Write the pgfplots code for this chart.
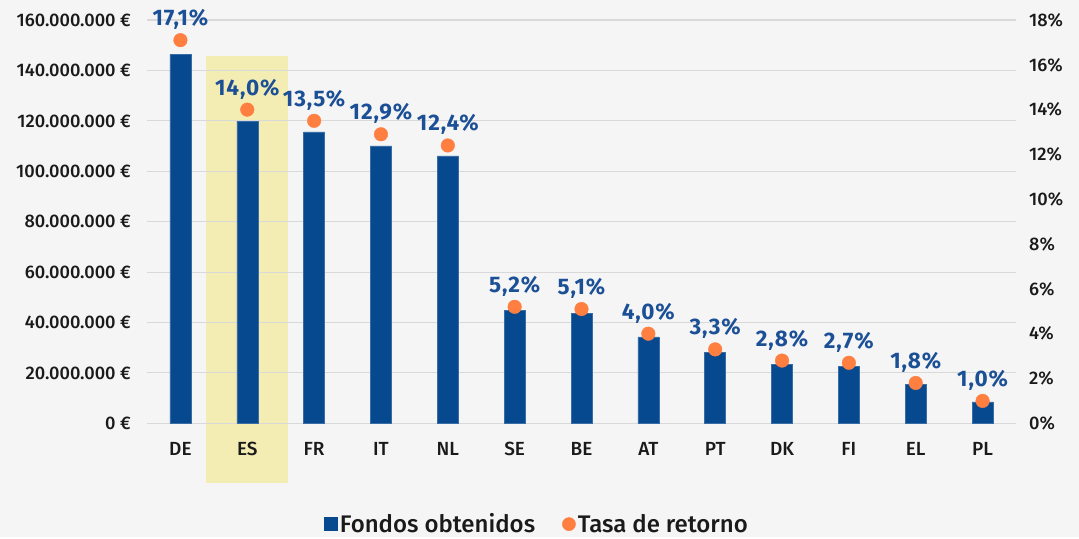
\documentclass[border=0pt]{standalone}
\usepackage{pgfplots}
\pgfplotsset{compat=1.18}
\usepackage{fontspec}
\setmainfont{Fira Sans}
\newfontfamily\medfont{Fira Sans Medium}
\newfontfamily\lblfont{Fira Sans Bold}[LetterSpace=4]
\definecolor{bgcol}{HTML}{F5F5F5}
\definecolor{barcol}{HTML}{07498E}
\definecolor{dotcol}{HTML}{FF7F41}
\definecolor{lblcol}{HTML}{1B4F96}
\definecolor{hlcol}{HTML}{F3EDB3}
\definecolor{gridcol}{HTML}{D9D9D9}
\definecolor{txtcol}{HTML}{1A1A1A}
\pgfplotstableread{
x fondos tasa
0 146.4e6 17.1
1 119.9e6 14.0
2 115.6e6 13.5
3 110.1e6 12.9
4 106.1e6 12.4
5 44.9e6 5.2
6 43.6e6 5.1
7 34.3e6 4.0
8 28.2e6 3.3
9 23.5e6 2.8
10 22.7e6 2.7
11 15.4e6 1.8
12 8.5e6 1.0
}\datatable
\begin{document}
\begin{tikzpicture}
\fill[bgcol] (0,0) rectangle (1079pt,537pt);
% highlight band
\begin{axis}[
  at={(147pt,113.7pt)}, anchor=south west, scale only axis,
  width=869pt, height=403.3pt,
  xmin=-0.5, xmax=12.5, ymin=0, ymax=160e6,
  hide axis, clip=false,
]
\addplot[fill=hlcol, draw=none] coordinates {(0.39,-23.7e6) (1.61,-23.7e6) (1.61,145.8e6) (0.39,145.8e6)} -- cycle;
\end{axis}
% bars
\begin{axis}[
  at={(147pt,113.7pt)}, anchor=south west, scale only axis,
  width=869pt, height=403.3pt,
  xmin=-0.5, xmax=12.5, ymin=0, ymax=160e6,
  axis line style={draw=none},
  major tick length=0pt,
  ymajorgrids, grid style={color=gridcol, line width=1.1pt},
  ytick={0,20e6,40e6,60e6,80e6,100e6,120e6,140e6,160e6},
  yticklabels={0 €,20.000.000 €,40.000.000 €,60.000.000 €,80.000.000 €,100.000.000 €,120.000.000 €,140.000.000 €,160.000.000 €},
  scaled y ticks=false,
  xtick={0,...,12},
  xticklabels={DE,ES,FR,IT,NL,SE,BE,AT,PT,DK,FI,EL,PL},
  yticklabel style={anchor=base east, inner sep=0pt, xshift=-16pt, yshift=-6.3pt, font=\fontsize{18.2}{20}\selectfont\medfont, text=txtcol},
  xticklabel style={anchor=base, inner sep=0pt, yshift=-32.4pt, font=\fontsize{19}{20}\selectfont\medfont, text=txtcol},
  clip=false,
]
\addplot[ybar, bar width=21pt, fill=barcol, draw=barcol!80!white, line width=0.4pt] table[x=x, y=fondos] {\datatable};
\end{axis}
% rate
\begin{axis}[
  at={(147pt,113.7pt)}, anchor=south west, scale only axis,
  width=869pt, height=403.3pt,
  xmin=-0.5, xmax=12.5, ymin=0, ymax=18,
  axis line style={draw=none},
  major tick length=0pt,
  xtick=\empty,
  ytick={0,2,...,18},
  yticklabels={0\%,2\%,4\%,6\%,8\%,10\%,12\%,14\%,16\%,18\%},
  yticklabel pos=right,
  yticklabel style={anchor=base west, inner sep=0pt, xshift=13pt, yshift=-6.3pt, font=\fontsize{18.2}{20}\selectfont\medfont, text=txtcol},
  clip=false,
  legend style={at={(0.449,-0.25)}, anchor=center, draw=none, fill=none,
    font=\fontsize{24}{26}\selectfont\medfont, text=txtcol,
    /tikz/every even column/.append style={column sep=25pt},
    /tikz/every odd column/.append style={column sep=0pt}},
  legend columns=2,
  legend cell align=left,
]
\addlegendimage{legend image code/.code={\fill[barcol] (0pt,-6.5pt) rectangle (13pt,6.5pt);}}
\addlegendentry{Fondos obtenidos}
\addlegendimage{legend image code/.code={\fill[dotcol] (6.6pt,0pt) circle[radius=6.6pt];}}
\addlegendentry{Tasa de retorno}
\addplot[only marks, mark=*, mark size=6.8pt, color=dotcol, forget plot,
  point meta=y,
  nodes near coords={\pgfmathprintnumber[fixed,fixed zerofill,precision=1,use comma,assume math mode=true]{\pgfplotspointmeta}\%},
  every node near coord/.append style={anchor=base, yshift=14.5pt, inner sep=0pt, text=lblcol, font=\fontsize{22.5}{24}\selectfont\lblfont},
] table[x=x, y=tasa] {\datatable};
\end{axis}
\end{tikzpicture}
\end{document}
